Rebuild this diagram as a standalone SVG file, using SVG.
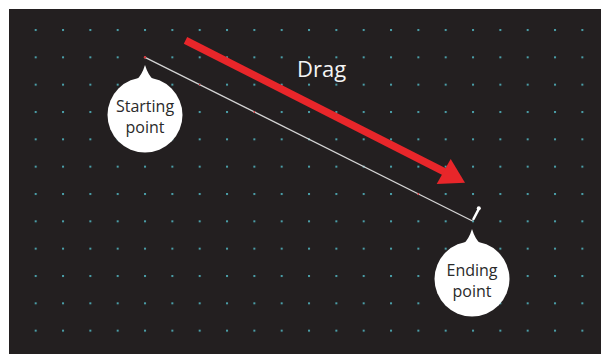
<svg xmlns="http://www.w3.org/2000/svg" width="601" height="354" viewBox="0 0 601 354">
<style>
.bubble{fill:#ffffff}
.btxt{font-family:"Open Sans","Noto Sans",sans-serif;font-size:16px;fill:#2a2a2a;text-anchor:middle}
.drag{font-family:"Open Sans","Noto Sans",sans-serif;font-size:22px;fill:#f4f4f4}
.speck{fill:#d8353a}
</style>
<defs>
<pattern id="grid" patternUnits="userSpaceOnUse" x="34.7" y="29" width="27.333" height="27.333">
<rect x="0" y="0" width="2" height="2" fill="#4a9ea8"/>
</pattern>
</defs>
<rect x="0" y="0" width="601" height="354" fill="#ffffff"/>
<rect x="9" y="9" width="592" height="345" fill="#231f20"/>
<rect x="12" y="12" width="589" height="342" fill="url(#grid)"/>
<g id="connectors">
<line x1="145" y1="57.3" x2="472.5" y2="221" stroke="#d4d4d4" stroke-width="1.3"/>
<circle class="speck" cx="145" cy="57.3" r="1.2"/>
<circle class="speck" cx="199.7" cy="84.6" r="0.9"/>
<circle class="speck" cx="254.3" cy="112" r="0.9"/>
<circle class="speck" cx="418.3" cy="194" r="0.9"/>
<line x1="473.5" y1="219" x2="479" y2="208.5" stroke="#ffffff" stroke-width="2.6" stroke-linecap="round"/>
<circle cx="478.8" cy="208.3" r="2" fill="#ffffff"/>
<line x1="185.5" y1="40.3" x2="445" y2="172.2" stroke="#e8262a" stroke-width="7.5"/>
<polygon points="465,182.7 436.7,184 450.7,159" fill="#e8262a"/>
</g>
<g id="start-node">
<path class="bubble" d="M145,65 Q148,75 154,80.5 L136,80.5 Q142,75 145,65 Z"/>
<circle class="bubble" cx="145" cy="115" r="37.5"/>
<text class="btxt" x="145" y="111.5">Starting</text>
<text class="btxt" x="145" y="133">point</text>
</g>
<g id="end-node">
<path class="bubble" d="M472,229 Q475,239 481,244.5 L463,244.5 Q469,239 472,229 Z"/>
<circle class="bubble" cx="472" cy="279" r="37.5"/>
<text class="btxt" x="472" y="275.5">Ending</text>
<text class="btxt" x="472" y="297">point</text>
</g>
<g id="drag-label">
<text class="drag" x="297" y="76.7">Drag</text>
</g>
</svg>
